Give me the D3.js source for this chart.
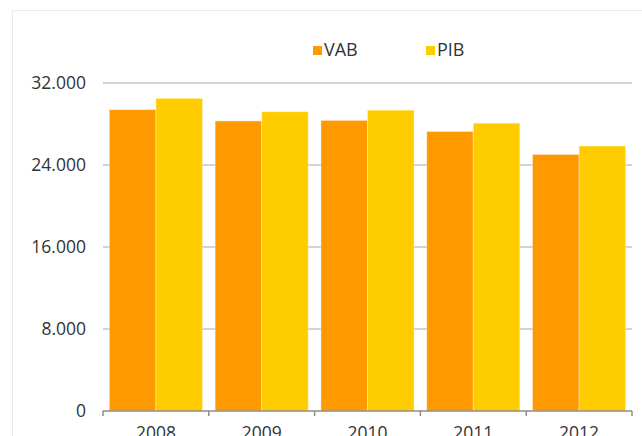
<!DOCTYPE html>
<html>
<head>
<meta charset="utf-8">
<script src="https://cdn.jsdelivr.net/npm/d3@7"></script>
<style>
  body { margin: 0; background: #fff; }
  svg { display: block; font-family: "Open Sans", sans-serif; }
</style>
</head>
<body>
<div id="chart"></div>
<script>
var years = ["2008", "2009", "2010", "2011", "2012"];
var seriesNames = ["VAB", "PIB"];
var vab = [29400, 28300, 28350, 27270, 25030];
var pib = [30500, 29200, 29350, 28080, 25850];
var yTicks = [0, 8000, 16000, 24000, 32000];
var colors = ["#ff9900", "#ffcc00"];

var width = 642, height = 436;
var plotLeft = 103, plotRight = 632, plotTop = 83, plotBottom = 411;

var svg = d3.select("#chart")
    .append("svg")
    .attr("width", width)
    .attr("height", height);

// faint frame
svg.append("path")
    .attr("d", "M12.5," + height + "V10.5H" + width)
    .attr("fill", "none")
    .attr("stroke", "#e4ebf4")
    .attr("stroke-width", 1);

var y = d3.scaleLinear().domain([0, 32000]).range([plotBottom, plotTop]);

var x0 = d3.scaleBand().domain(years).range([plotLeft, plotRight]);
var xg = d3.scaleBand().domain(years).range([plotLeft, plotRight]).paddingInner(0.12).paddingOuter(0.06);
var x1 = d3.scaleBand().domain(seriesNames).range([0, xg.bandwidth()]);

var fmt = function (d) { return d3.format(",")(d).replace(/,/g, "."); };

// gridlines
svg.append("g")
    .selectAll("line")
    .data(yTicks.filter(function (d) { return d > 0; }))
    .enter()
    .append("line")
    .attr("x1", plotLeft)
    .attr("x2", plotRight)
    .attr("y1", function (d) { return y(d); })
    .attr("y2", function (d) { return y(d); })
    .attr("stroke", "#c4c4c4")
    .attr("stroke-width", 1.5);

// y labels
svg.append("g")
    .selectAll("text")
    .data(yTicks)
    .enter()
    .append("text")
    .attr("x", 86)
    .attr("y", function (d) { return y(d); })
    .attr("dy", "0.36em")
    .attr("text-anchor", "end")
    .attr("fill", "#333")
    .style("font-size", "17.5px")
    .text(fmt);

// bars
var rows = years.map(function (yr, i) {
    return { year: yr, values: [vab[i], pib[i]] };
});

var groups = svg.append("g")
    .selectAll("g")
    .data(rows)
    .enter()
    .append("g")
    .attr("transform", function (d) { return "translate(" + xg(d.year) + ",0)"; });

groups.selectAll("rect")
    .data(function (d) {
        return d.values.map(function (v, j) { return { name: seriesNames[j], value: v, i: j }; });
    })
    .enter()
    .append("rect")
    .attr("x", function (d) { return x1(d.name); })
    .attr("width", x1.bandwidth())
    .attr("y", function (d) { return y(d.value); })
    .attr("height", function (d) { return plotBottom - y(d.value); })
    .attr("fill", function (d) { return colors[d.i]; })
    .attr("stroke", "rgba(255,255,255,0.35)")
    .attr("stroke-width", 1);

// x axis line and boundary ticks
var axis = svg.append("g");
axis.append("line")
    .attr("x1", plotLeft)
    .attr("x2", plotRight)
    .attr("y1", plotBottom)
    .attr("y2", plotBottom)
    .attr("stroke", "#8c8c8c")
    .attr("stroke-width", 1.5);

var bounds = years.map(function (d) { return x0(d); }).concat([plotRight]);
axis.selectAll("line.tick")
    .data(bounds)
    .enter()
    .append("line")
    .attr("class", "tick")
    .attr("x1", function (d) { return d; })
    .attr("x2", function (d) { return d; })
    .attr("y1", plotBottom)
    .attr("y2", plotBottom + 5)
    .attr("stroke", "#8c8c8c")
    .attr("stroke-width", 1.5);

axis.selectAll("text")
    .data(years)
    .enter()
    .append("text")
    .attr("x", function (d) { return x0(d) + x0.bandwidth() / 2; })
    .attr("y", 439)
    .attr("text-anchor", "middle")
    .attr("fill", "#333")
    .style("font-size", "17.5px")
    .text(function (d) { return d; });

// legend
var legendX = [313, 426];
var legend = svg.append("g")
    .selectAll("g")
    .data(seriesNames)
    .enter()
    .append("g")
    .attr("transform", function (d, i) { return "translate(" + legendX[i] + ",46)"; });

legend.append("rect")
    .attr("width", 9)
    .attr("height", 9)
    .attr("fill", function (d, i) { return colors[i]; });

legend.append("text")
    .attr("x", 11)
    .attr("y", 10)
    .attr("fill", "#333")
    .style("font-size", "18px")
    .text(function (d) { return d; });
</script>
</body>
</html>
